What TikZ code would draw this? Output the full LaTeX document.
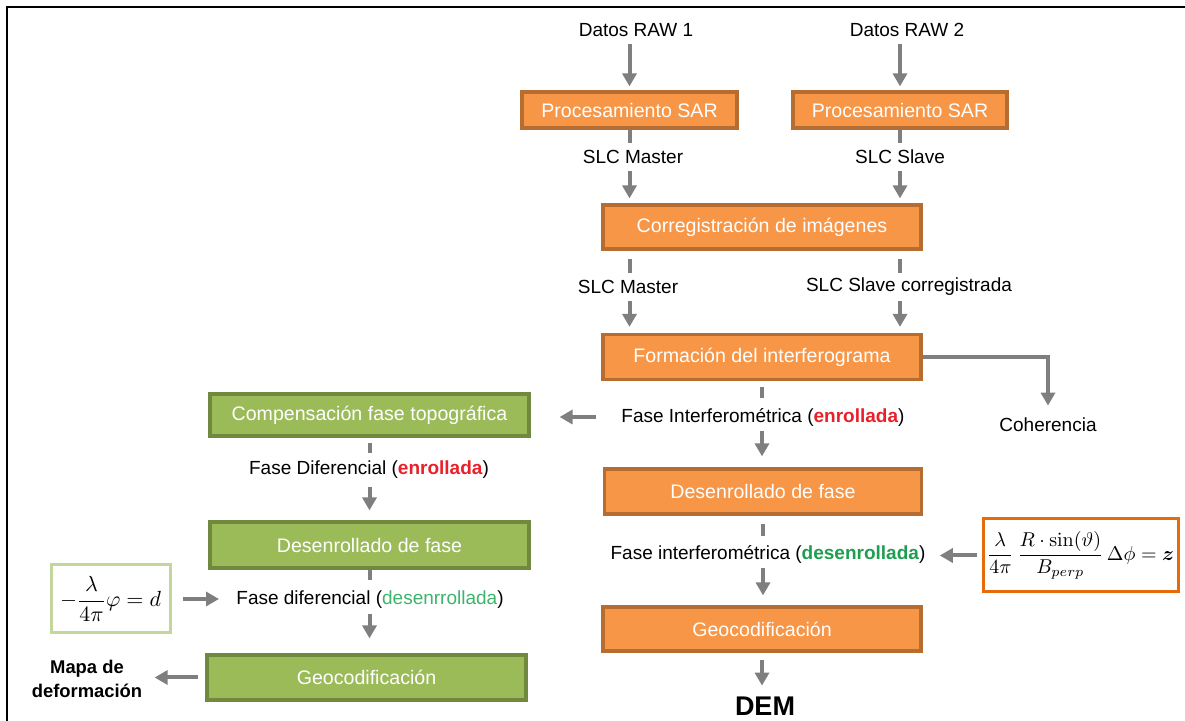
\documentclass[tikz,border=0pt]{standalone}
\usepackage[no-math]{fontspec}
\setmainfont{Liberation Sans}
\usepackage{amsmath}
\usetikzlibrary{arrows.meta}

\definecolor{orfill}{HTML}{F79646}
\definecolor{ordraw}{HTML}{B66D31}
\definecolor{grfill}{HTML}{9BBB59}
\definecolor{grdraw}{HTML}{71893F}
\definecolor{arrowgray}{HTML}{7F7F7F}
\definecolor{wrapred}{HTML}{E8202A}
\definecolor{unwrapgreen}{HTML}{1E9E50}
\definecolor{unwraplight}{HTML}{3DB36B}
\definecolor{eqorange}{HTML}{E46C0A}
\definecolor{eqgreen}{HTML}{C3D69B}

\newcommand{\wrapped}{\textcolor{wrapred}{\textbf{enrollada}}}

\begin{document}
\begin{tikzpicture}[x=0.5pt,y=-0.5pt,
  box/.style={draw, line width=1.6pt, inner sep=0pt,
    font=\fontsize{9.8}{11.8}\selectfont, text=white},
  orbox/.style={box, fill=orfill, draw=ordraw},
  grbox/.style={box, fill=grfill, draw=grdraw},
  lbl/.style={inner sep=0pt, minimum height=14pt,
    font=\fontsize{9.5}{11.4}\selectfont},
  eqbox/.style={draw, line width=1.5pt, fill=white, inner sep=0pt},
  stub/.style={draw=arrowgray, line width=2pt},
  conn/.style={stub, -{Triangle[width=7pt,length=6.5pt]}},
]
\useasboundingbox (0,0) rectangle (1185,721);

% frame
\draw[line width=1pt] (7,721) -- (7,7) -- (1185,7);

% ---- DEM branch (orange) ----
\node[lbl] (raw1) at (636,30) {Datos RAW 1};
\node[lbl] (raw2) at (907,30) {Datos RAW 2};
\node[orbox, minimum width=107.5pt, minimum height=18pt] (p1) at (629.5,110) {Procesamiento SAR};
\node[orbox, minimum width=107pt, minimum height=18pt] (p2) at (900,110) {Procesamiento SAR};
\node[lbl] (slcm1) at (633,157) {SLC Master};
\node[lbl] (slcs1) at (900,157) {SLC Slave};
\node[orbox, minimum width=159pt, minimum height=22pt] (corr) at (762,227) {Corregistración de imágenes};
\node[lbl] (slcm2) at (628,287) {SLC Master};
\node[lbl] (slcs2) at (909,287) {SLC Slave corregistrada};
\node[orbox, minimum width=159pt, minimum height=22.5pt] (form) at (762,357) {Formación del interferograma};
\node[lbl] (coh) at (1048,425) {Coherencia};
\node[lbl] (fi) at (763,417) {Fase Interferométrica (\wrapped)};
\node[orbox, minimum width=158.5pt, minimum height=22.5pt] (des1) at (763,491.5) {Desenrollado de fase};
\node[lbl] (fid) at (768,554) {Fase interferométrica (\textcolor{unwrapgreen}{\textbf{desenrollada}})};
\node[eqbox, draw=eqorange, minimum width=97.5pt, minimum height=36.5pt,
  font=\fontsize{9.9}{12}\selectfont] (fz1) at (1080.5,555.5)
  {$\displaystyle \frac{\lambda}{4\pi}\,\frac{R\cdot\sin(\vartheta)}{B_{perp}}\,\Delta\phi=\boldsymbol{z}$};
\node[orbox, minimum width=159pt, minimum height=22pt] (geo1) at (762,629) {Geocodificación};
\node[lbl, font=\fontsize{13.5}{16}\selectfont\bfseries] (dem) at (765,706) {DEM};

% ---- deformation branch (green) ----
\node[grbox, minimum width=159.5pt, minimum height=21pt] (comp) at (369.5,415) {Compensación fase topográfica};
\node[lbl] (fd) at (369,470) {Fase Diferencial (\wrapped)};
\node[grbox, minimum width=159.5pt, minimum height=23pt] (des2) at (369.5,545) {Desenrollado de fase};
\node[lbl] (fdd) at (370,600) {Fase diferencial (\textcolor{unwraplight}{desenrrollada})};
\node[eqbox, draw=eqgreen, minimum width=59.5pt, minimum height=34pt,
  font=\fontsize{10.5}{12.6}\selectfont] (fz2) at (110.5,599)
  {$\displaystyle -\frac{\lambda}{4\pi}\varphi=d$};
\node[grbox, minimum width=159.5pt, minimum height=22.5pt] (geo2) at (366.5,677.5) {Geocodificación};
\node[lbl, align=center, font=\fontsize{9.2}{12}\selectfont\bfseries] (mapa) at (87,679) {Mapa de\\deformación};

% ---- connectors: orange branch ----
\draw[conn, shorten >=2pt] (raw1.south -| p1) -- (p1.north);
\draw[conn, shorten >=2pt] (raw2.south -| p2) -- (p2.north);
\draw[stub] (p1.south) -- (p1 |- slcm1.north);
\draw[stub] (p2.south) -- (p2 |- slcs1.north);
\draw[conn, shorten >=2.5pt] (p1 |- slcm1.south) -- (p1 |- corr.north);
\draw[conn, shorten >=2.5pt] (p2 |- slcs1.south) -- (p2 |- corr.north);
\draw[stub, shorten <=4pt] (p1 |- corr.south) -- (p1 |- slcm2.north);
\draw[stub, shorten <=4pt] (p2 |- corr.south) -- (p2 |- slcs2.north);
\draw[conn, shorten >=3pt] (p1 |- slcm2.south) -- (p1 |- form.north);
\draw[conn, shorten >=3pt] (p2 |- slcs2.south) -- (p2 |- form.north);
\draw[conn, shorten >=2.5pt] (form.east) -| (coh.north);
\draw[stub, shorten <=3pt, shorten >=2.5pt] (form.south) -- (form.south |- fi.north);
\draw[conn, shorten >=5.5pt] (form.south |- fi.south) -- (form.south |- des1.north);
\draw[conn, shorten <=12.5pt, shorten >=14.5pt] (fi.west) -- (fi.west -| comp.east);
\draw[stub, shorten <=4pt, shorten >=2pt] (des1.south) -- (des1.south |- fid.north);
\draw[conn, shorten >=5pt] (des1.south |- fid.south) -- (des1.south |- geo1.north);
\draw[conn, shorten <=2.5pt, shorten >=7pt] (fz1.west) -- (fz1.west -| fid.east);
\draw[conn, shorten <=3.5pt, shorten >=3pt] (geo1.south) -- (geo1.south |- dem.north);

% ---- connectors: green branch ----
\draw[stub, shorten <=2.5pt, shorten >=1.5pt] (comp.south) -- (comp.south |- fd.north);
\draw[conn, shorten <=1.5pt, shorten >=5pt] (comp.south |- fd.south) -- (comp.south |- des2.north);
\draw[stub, shorten >=3pt] (des2.south) -- (des2.south |- fdd.north);
\draw[conn, shorten >=7.5pt] (des2.south |- fdd.south) -- (des2.south |- geo2.north);
\draw[conn, shorten <=5.5pt, shorten >=8.5pt] (fz2.east) -- (fz2.east -| fdd.west);
\draw[conn, shorten <=3.5pt, shorten >=6pt] (geo2.west) -- (geo2.west -| mapa.east);
\end{tikzpicture}
\end{document}
